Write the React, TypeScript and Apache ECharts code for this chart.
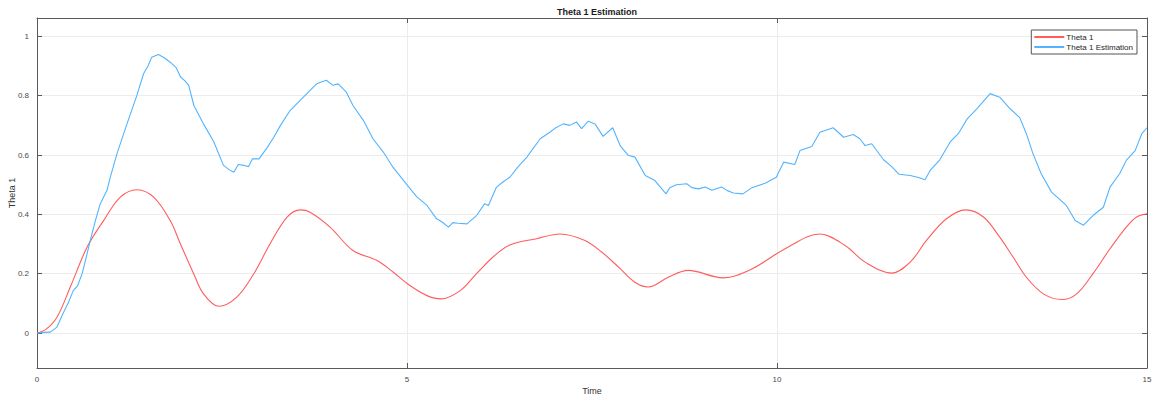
import React, { useEffect, useRef } from "react";
import * as echarts from "echarts";

const titleText = "Theta 1 Estimation";
const seriesNames = ["Theta 1", "Theta 1 Estimation"];
const yTicks = [0, 0.2, 0.4, 0.6, 0.8, 1];
const xTicks = [0, 5, 10, 15];

const theta1: [number, number][] = [
  [0, 0], [0.12, 0.012], [0.27, 0.053], [0.45, 0.155], [0.676, 0.289], [0.9, 0.379], [1.126, 0.458],
  [1.35, 0.483], [1.577, 0.458], [1.8, 0.379], [1.937, 0.301], [2.117, 0.2], [2.25, 0.132], [2.455, 0.09],
  [2.7, 0.121], [2.93, 0.2], [3.15, 0.301], [3.38, 0.391], [3.56, 0.415], [3.69, 0.407], [3.96, 0.357],
  [4.27, 0.278], [4.59, 0.245], [4.815, 0.205], [5.04, 0.16], [5.27, 0.126], [5.46, 0.115], [5.72, 0.143],
  [5.94, 0.2], [6.17, 0.258], [6.39, 0.297], [6.75, 0.318], [7.07, 0.334], [7.405, 0.312], [7.63, 0.273],
  [7.86, 0.222], [8.08, 0.171], [8.26, 0.155], [8.53, 0.188], [8.8, 0.211], [9.27, 0.186], [9.66, 0.216],
  [10.11, 0.284], [10.58, 0.334], [10.92, 0.295], [11.19, 0.239], [11.55, 0.202], [11.8, 0.239],
  [12.02, 0.312], [12.29, 0.385], [12.55, 0.415], [12.79, 0.391], [13.01, 0.323], [13.19, 0.256],
  [13.37, 0.188], [13.6, 0.132], [13.85, 0.113], [14.05, 0.132], [14.27, 0.2], [14.5, 0.284],
  [14.72, 0.357], [14.86, 0.391], [15, 0.402],
];

const theta1Est: [number, number][] = [
  [0, 0], [0.1, 0.002], [0.18, 0.003], [0.27, 0.02], [0.35, 0.065], [0.42, 0.1], [0.49, 0.143], [0.55, 0.16],
  [0.61, 0.2], [0.66, 0.25], [0.72, 0.312], [0.79, 0.38], [0.855, 0.436], [0.946, 0.481], [0.99, 0.525],
  [1.08, 0.604], [1.216, 0.705], [1.35, 0.801], [1.44, 0.874], [1.5, 0.9], [1.55, 0.93], [1.64, 0.939],
  [1.72, 0.928], [1.8, 0.913], [1.88, 0.895], [1.94, 0.863], [2.0, 0.85], [2.05, 0.835], [2.12, 0.767],
  [2.25, 0.705], [2.39, 0.644], [2.52, 0.565], [2.6, 0.55], [2.66, 0.542], [2.72, 0.568], [2.8, 0.565],
  [2.86, 0.561], [2.91, 0.587], [3.0, 0.587], [3.11, 0.625], [3.2, 0.66], [3.29, 0.7], [3.42, 0.75],
  [3.6, 0.795], [3.69, 0.818], [3.78, 0.84], [3.91, 0.852], [4.0, 0.835], [4.07, 0.84], [4.18, 0.812],
  [4.27, 0.767], [4.41, 0.717], [4.54, 0.655], [4.68, 0.61], [4.81, 0.559], [4.99, 0.503], [5.13, 0.46],
  [5.27, 0.43], [5.4, 0.385], [5.47, 0.375], [5.56, 0.357], [5.62, 0.372], [5.69, 0.37], [5.81, 0.368],
  [5.94, 0.396], [6.05, 0.436], [6.1, 0.43], [6.21, 0.492], [6.3, 0.51], [6.39, 0.525], [6.5, 0.56],
  [6.62, 0.593], [6.8, 0.655], [6.93, 0.677], [7.0, 0.69], [7.11, 0.705], [7.2, 0.7], [7.29, 0.711],
  [7.36, 0.689], [7.45, 0.714], [7.54, 0.705], [7.65, 0.663], [7.78, 0.692], [7.88, 0.632], [7.99, 0.599],
  [8.08, 0.593], [8.22, 0.531], [8.35, 0.514], [8.5, 0.469], [8.55, 0.49], [8.64, 0.5], [8.78, 0.503],
  [8.85, 0.49], [8.94, 0.486], [9.03, 0.492], [9.12, 0.481], [9.25, 0.492], [9.33, 0.48], [9.41, 0.472],
  [9.54, 0.469], [9.66, 0.49], [9.84, 0.505], [9.99, 0.525], [10.09, 0.576], [10.24, 0.568],
  [10.31, 0.615], [10.47, 0.629], [10.58, 0.677], [10.76, 0.692], [10.9, 0.66], [11.03, 0.669],
  [11.12, 0.655], [11.19, 0.632], [11.28, 0.638], [11.44, 0.584], [11.55, 0.561], [11.65, 0.535],
  [11.8, 0.531], [11.9, 0.525], [12.0, 0.517], [12.07, 0.548], [12.2, 0.584], [12.34, 0.644],
  [12.45, 0.672], [12.57, 0.722], [12.7, 0.756], [12.88, 0.807], [13.01, 0.795], [13.15, 0.756],
  [13.28, 0.726], [13.37, 0.672], [13.46, 0.604], [13.57, 0.537], [13.71, 0.475], [13.91, 0.43],
  [14.03, 0.379], [14.14, 0.363], [14.27, 0.396], [14.41, 0.424], [14.5, 0.492], [14.63, 0.537],
  [14.72, 0.582], [14.84, 0.615], [14.93, 0.672], [15, 0.692],
];

const FONT = "'Liberation Sans', Arial, sans-serif";
const AXIS_COLOR = "#5a5a5a";
const LABEL_COLOR = "#4a4a4a";
const GRID_COLOR = "#ececec";
const RED = "#ff5c5c";
const BLUE = "#52b4ff";

export default function App() {
  const ref = useRef<HTMLDivElement>(null);
  useEffect(() => {
    if (!ref.current) return;
    const chart = echarts.init(ref.current, undefined, { renderer: "svg" });
    const yAxisBase = {
      type: "value",
      min: -0.118,
      max: 1.062,
      axisLine: { show: true, onZero: false, lineStyle: { color: AXIS_COLOR, width: 1 } },
    };
    chart.setOption({
      animation: false,
      backgroundColor: "#ffffff",
      textStyle: { fontFamily: FONT },
      title: {
        text: titleText,
        left: 592,
        textAlign: "center",
        top: 2,
        textStyle: { fontSize: 9, fontWeight: "bold", color: "#1a1a1a", fontFamily: FONT },
      },
      legend: {
        orient: "vertical",
        right: 15,
        top: 30,
        itemWidth: 30,
        itemHeight: 2,
        itemGap: 2,
        padding: [3, 4, 3, 3],
        borderColor: "#555555",
        borderWidth: 1,
        backgroundColor: "#ffffff",
        icon: "rect",
        textStyle: { fontSize: 8, color: "#262626", fontFamily: FONT, padding: [0, 0, 0, -3] },
        data: seriesNames,
      },
      grid: { left: 37, right: 5, top: 18, bottom: 28, containLabel: false, outerBoundsMode: "none" },
      xAxis: [
        {
          type: "value",
          min: 0,
          max: 15,
          interval: 5,
          name: "Time",
          nameLocation: "middle",
          nameGap: 18,
          nameMoveOverlap: false,
          nameTextStyle: { fontSize: 9, color: "#333333", fontFamily: FONT },
          axisLine: { show: true, onZero: false, lineStyle: { color: AXIS_COLOR, width: 1 } },
          axisTick: { show: true, inside: true, length: 5, lineStyle: { color: AXIS_COLOR } },
          axisLabel: { fontSize: 8, color: LABEL_COLOR, margin: 7, fontFamily: FONT },
          splitLine: { show: true, lineStyle: { color: GRID_COLOR, width: 1 } },
        },
        {
          type: "value",
          position: "top",
          min: 0,
          max: 15,
          interval: 5,
          axisLine: { show: true, onZero: false, lineStyle: { color: AXIS_COLOR, width: 1 } },
          axisTick: { show: true, inside: true, length: 5, lineStyle: { color: AXIS_COLOR } },
          axisLabel: { show: false },
          splitLine: { show: false },
        },
      ],
      yAxis: [
        {
          ...yAxisBase,
          name: "Theta 1",
          nameLocation: "middle",
          nameGap: 21,
          nameRotate: 90,
          nameMoveOverlap: false,
          nameTextStyle: { fontSize: 9, color: "#333333", fontFamily: FONT },
          axisTick: { show: true, inside: true, length: 5, customValues: yTicks, lineStyle: { color: AXIS_COLOR } },
          axisLabel: {
            fontSize: 8,
            color: LABEL_COLOR,
            margin: 8,
            customValues: yTicks,
            fontFamily: FONT,
            formatter: (v: number) => String(Math.round(v * 10) / 10),
          },
          splitLine: { show: true, lineStyle: { color: GRID_COLOR, width: 1 } },
        },
        {
          ...yAxisBase,
          position: "right",
          axisTick: { show: true, inside: true, length: 5, customValues: yTicks, lineStyle: { color: AXIS_COLOR } },
          axisLabel: { show: false, customValues: yTicks },
          splitLine: { show: false },
        },
      ],
      series: [
        {
          name: seriesNames[0],
          type: "line",
          data: theta1,
          smooth: 0.35,
          showSymbol: false,
          symbol: "none",
          lineStyle: { color: RED, width: 1.1 },
          itemStyle: { color: RED },
        },
        {
          name: seriesNames[1],
          type: "line",
          data: theta1Est,
          showSymbol: false,
          symbol: "none",
          lineStyle: { color: BLUE, width: 1.1 },
          itemStyle: { color: BLUE },
        },
      ],
    });
    return () => chart.dispose();
  }, []);
  return (
    <div
      ref={ref}
      style={{ position: "fixed", left: 0, top: 0, width: 1152, height: 396 }}
      data-xticks={xTicks.join(",")}
    />
  );
}
